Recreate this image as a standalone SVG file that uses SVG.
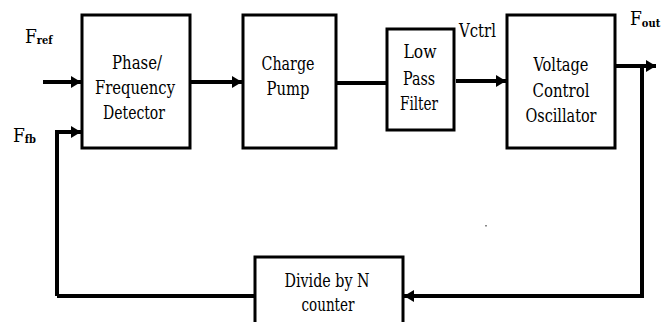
<svg xmlns="http://www.w3.org/2000/svg" width="663" height="322" viewBox="0 0 663 322">
<style>
.box{fill:#fff;stroke:#000;stroke-width:3}
text{font-family:'DejaVu Serif Condensed','DejaVu Serif','Liberation Serif',serif;font-stretch:condensed;fill:#000}
.t{font-size:19px;text-anchor:middle}
.lbl{font-size:19px}
.sub{font-size:11px;font-weight:bold}
.ln{fill:none;stroke:#000;stroke-width:4}
</style>
<defs>
<marker id="ah" markerUnits="userSpaceOnUse" markerWidth="12" markerHeight="14" refX="10" refY="7" orient="auto">
<path d="M0,1 L10,7 L0,13 Z" fill="#000"/>
</marker>
</defs>
<rect width="663" height="322" fill="#fff"/>
<g id="connectors">
<line class="ln" x1="43" y1="82" x2="81" y2="82" marker-end="url(#ah)"/>
<polyline class="ln" points="57,296 57,132 81,132" marker-end="url(#ah)"/>
<line class="ln" x1="190" y1="82" x2="242" y2="82" marker-end="url(#ah)"/>
<line class="ln" x1="336" y1="83" x2="387" y2="83"/>
<line class="ln" x1="456" y1="81" x2="506" y2="81" marker-end="url(#ah)"/>
<line class="ln" x1="615" y1="66" x2="656" y2="66" stroke-width="5" marker-end="url(#ah)"/>
<polyline class="ln" points="642,66 642,296 404,296" marker-end="url(#ah)"/>
<line class="ln" x1="255" y1="296" x2="57" y2="296"/>
<rect x="485" y="225" width="2" height="1.5" fill="#888"/>
</g>
<g id="pfd">
<rect class="box" x="82" y="15" width="108" height="133"/>
<text class="t" x="137" y="69" textLength="50" lengthAdjust="spacingAndGlyphs">Phase/</text>
<text class="t" x="135" y="94" textLength="80" lengthAdjust="spacingAndGlyphs">Frequency</text>
<text class="t" x="134" y="119" textLength="62" lengthAdjust="spacingAndGlyphs">Detector</text>
</g>
<g id="cp">
<rect class="box" x="243" y="15" width="93" height="133"/>
<text class="t" x="288" y="70" textLength="53" lengthAdjust="spacingAndGlyphs">Charge</text>
<text class="t" x="288" y="95" textLength="43" lengthAdjust="spacingAndGlyphs">Pump</text>
</g>
<g id="lpf">
<rect class="box" x="387" y="29" width="67" height="101"/>
<text class="t" x="420" y="58" textLength="33" lengthAdjust="spacingAndGlyphs">Low</text>
<text class="t" x="419" y="85" textLength="32" lengthAdjust="spacingAndGlyphs">Pass</text>
<text class="t" x="419" y="110" textLength="38" lengthAdjust="spacingAndGlyphs">Filter</text>
</g>
<g id="vco">
<rect class="box" x="507" y="15" width="108" height="133"/>
<text class="t" x="561" y="71" textLength="55" lengthAdjust="spacingAndGlyphs">Voltage</text>
<text class="t" x="561" y="97" textLength="57" lengthAdjust="spacingAndGlyphs">Control</text>
<text class="t" x="561" y="122" textLength="71" lengthAdjust="spacingAndGlyphs">Oscillator</text>
</g>
<g id="divider">
<rect class="box" x="255" y="257" width="148" height="80"/>
<text class="t" x="327" y="287" textLength="85" lengthAdjust="spacingAndGlyphs">Divide by N</text>
<text class="t" x="328" y="311" textLength="53" lengthAdjust="spacingAndGlyphs">counter</text>
</g>
<g id="labels">
<text class="lbl" x="25" y="43">F<tspan class="sub" dy="1">ref</tspan></text>
<text class="lbl" x="13" y="142">F<tspan class="sub" dy="1">fb</tspan></text>
<text class="lbl" x="459" y="37" font-size="16" textLength="37" lengthAdjust="spacingAndGlyphs">Vctrl</text>
<text class="lbl" x="630" y="25">F<tspan class="sub" dy="2">out</tspan></text>
</g>
</svg>
